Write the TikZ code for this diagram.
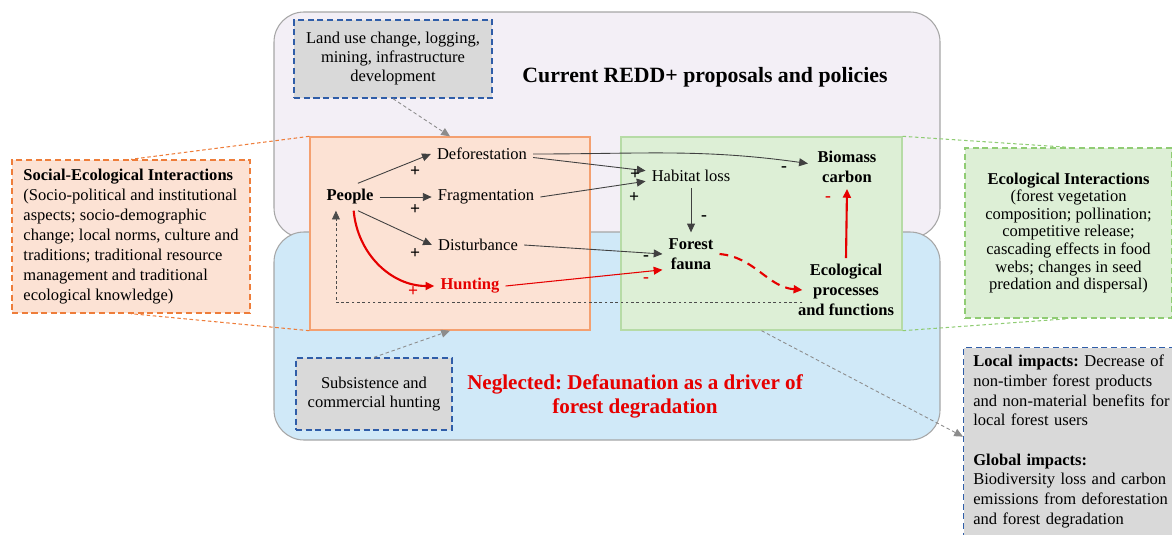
\documentclass[tikz,border=0pt]{standalone}
\usepackage{fontspec}
\setmainfont{Liberation Serif}
\usetikzlibrary{arrows.meta}
\frenchspacing
\definecolor{lavender}{HTML}{F3EFF6}
\definecolor{skyblue}{HTML}{D0E9F8}
\definecolor{salmon}{HTML}{FCE2D4}
\definecolor{salmonline}{HTML}{F4A070}
\definecolor{dashorange}{HTML}{EE7D3A}
\definecolor{mint}{HTML}{DDEFD6}
\definecolor{mintline}{HTML}{B6DBA6}
\definecolor{dashgreen}{HTML}{90CC74}
\definecolor{boxgray}{HTML}{D9D9D9}
\definecolor{dashblue}{HTML}{2F5DA8}
\definecolor{alarm}{HTML}{E60000}

\begin{document}
\begin{tikzpicture}[x=0.02cm,y=-0.02cm,
        font=\fontsize{9.4}{11.3}\selectfont,
        >={Triangle[length=5pt,width=4.5pt]},
        region/.style={draw=black!35,line width=0.6pt,rounded corners=0.6cm},
        note/.style={draw=dashblue,fill=boxgray,dash pattern=on 3.5pt off 2pt,line width=0.8pt,align=center},
        strong/.style={font=\fontsize{9.4}{11.3}\selectfont\bfseries,align=center},
        arr/.style={->,draw=black!75,line width=0.5pt},
        redarr/.style={->,draw=alarm,line width=1.2pt},
        redthin/.style={->,draw=alarm,line width=0.6pt},
        hint/.style={->,draw=black!45,dash pattern=on 2pt off 1.5pt,line width=0.5pt},
        zoomline/.style={dash pattern=on 2pt off 1.5pt,line width=0.6pt},
        sign/.style={inner sep=0pt,font=\fontsize{10}{10}\selectfont\bfseries}]
    \useasboundingbox (0,0) rectangle (1172,534);
    \draw[region,fill=lavender] (274,12) rectangle (940,238);
    \draw[region,fill=skyblue] (274,232) rectangle (940,440);
    \node[font=\fontsize{12.4}{14}\selectfont\bfseries] (redd) at (705,77) {Current REDD+ proposals and policies};
    \node[font=\fontsize{12}{13.6}\selectfont\bfseries,text=alarm,align=center] (neglect) at (635,396)
        {Neglected: Defaunation as a driver of\\forest degradation};

    \node[draw=salmonline,fill=salmon,line width=0.8pt,minimum width=5.6cm,minimum height=3.86cm,inner sep=0pt] (social) at (450,233.5) {};
    \node[draw=mintline,fill=mint,line width=0.8pt,minimum width=5.62cm,minimum height=3.86cm,inner sep=0pt] (ecosys) at (761.5,233.5) {};

    \node[note,minimum width=3.96cm,minimum height=1.56cm,font=\fontsize{9.4}{10.8}\selectfont] (landuse) at (393,59)
        {Land use change, logging,\\mining, infrastructure\\development};
    \node[note,minimum width=3.12cm,minimum height=1.44cm] (hunters) at (374,394) {Subsistence and\\commercial hunting};
    \node[note,draw=dashorange,fill=salmon,align=left,minimum width=4.76cm,minimum height=3.06cm] (socnote) at (131,236.5)
        {\textbf{Social-Ecological Interactions}\\(Socio-political and institutional\\aspects; socio-demographic\\change; local norms, culture and\\traditions; traditional resource\\management and traditional\\ecological knowledge)};
    \node[note,draw=dashgreen,fill=mint,minimum width=4.14cm,minimum height=3.4cm,font=\fontsize{9.4}{10}\selectfont] (econote) at (1068.5,233)
        {\textbf{Ecological Interactions}\\(forest vegetation\\composition; pollination;\\competitive release;\\cascading effects in food\\webs; changes in seed\\predation and dispersal)};
    \node[note,anchor=north west,align=left,text width=4.2cm,inner xsep=5.5pt,inner ysep=4pt] (impacts) at (963,347)
        {\textbf{Local impacts:} Decrease of\\non-timber forest products\\and non-material benefits for\\local forest users\\[11pt]\textbf{Global impacts:}\\Biodiversity loss and carbon\\emissions from deforestation\\and forest degradation};

    \draw[dashorange,zoomline] (social.north west) -- (socnote.north)
                               (social.south west) -- (socnote.south);
    \draw[dashgreen,zoomline] (ecosys.north east) -- (econote.north)
                              (ecosys.south east) -- (econote.south);
    \draw[hint] (landuse.south) -- (social.north);
    \draw[hint] (hunters.north) -- (social.south);
    \draw[hint] (ecosys.south) -- ([yshift=-51pt]impacts.north west);

    \node[strong] (people) at (350,197) {People};
    \node (defo) at (482,154) {Deforestation};
    \node (frag) at (486,197) {Fragmentation};
    \node (dist) at (478,245) {Disturbance};
    \node[strong,text=alarm] (hunting) at (470,286) {Hunting};
    \node (habitat) at (691,176) {Habitat loss};
    \node[strong] (biomass) at (847,167) {Biomass\\carbon};
    \node[strong] (fauna) at (691,254) {Forest\\fauna};
    \node[strong] (ecol) at (846,290) {Ecological\\processes\\and functions};

    \draw[arr] (people.60) -- (defo.west);
    \draw[arr] (people.east) -- (frag.west);
    \draw[arr] (people.-60) -- (dist.west);
    \draw[redarr] (people.-75) to[out=-85,in=180] (hunting.west);
    \draw[arr] (defo.east) to[out=0,in=172] ([shift={(-2pt,2pt)}]biomass.west);
    \draw[arr] ([yshift=-2pt]defo.east) -- ([yshift=3pt]habitat.west);
    \draw[arr] (frag.east) -- ([yshift=-3pt]habitat.west);
    \draw[arr] (dist.east) -- (fauna.west);
    \draw[redthin] (hunting.east) -- ([yshift=-9pt]fauna.west);
    \draw[arr] (habitat.south) -- (fauna.north);
    \draw[redarr,dash pattern=on 5pt off 3.5pt] (fauna.east) to[out=-5,in=175] ([xshift=6pt]ecol.west);
    \draw[redarr] (ecol.north) -- (biomass.south);
    \draw[->,draw=black!70,dash pattern=on 1.5pt off 1.5pt,line width=0.5pt]
        ([shift={(6pt,-7pt)}]ecol.west) -| ([xshift=-8pt]people.south);

    \node[sign] (s1) at (415,172) {+};
    \node[sign] (s2) at (415,210) {+};
    \node[sign] (s3) at (415,254) {+};
    \node[sign,text=alarm] (s4) at (413,292) {+};
    \node[sign] (s5) at (635,175) {+};
    \node[sign] (s6) at (634,198) {+};
    \node[sign] (s7) at (784,169) {-};
    \node[sign] (s8) at (704,218) {-};
    \node[sign] (s9) at (646,258) {-};
    \node[sign,text=alarm] (s10) at (646,280) {-};
    \node[sign,text=alarm] (s11) at (828,199) {-};
\end{tikzpicture}
\end{document}
